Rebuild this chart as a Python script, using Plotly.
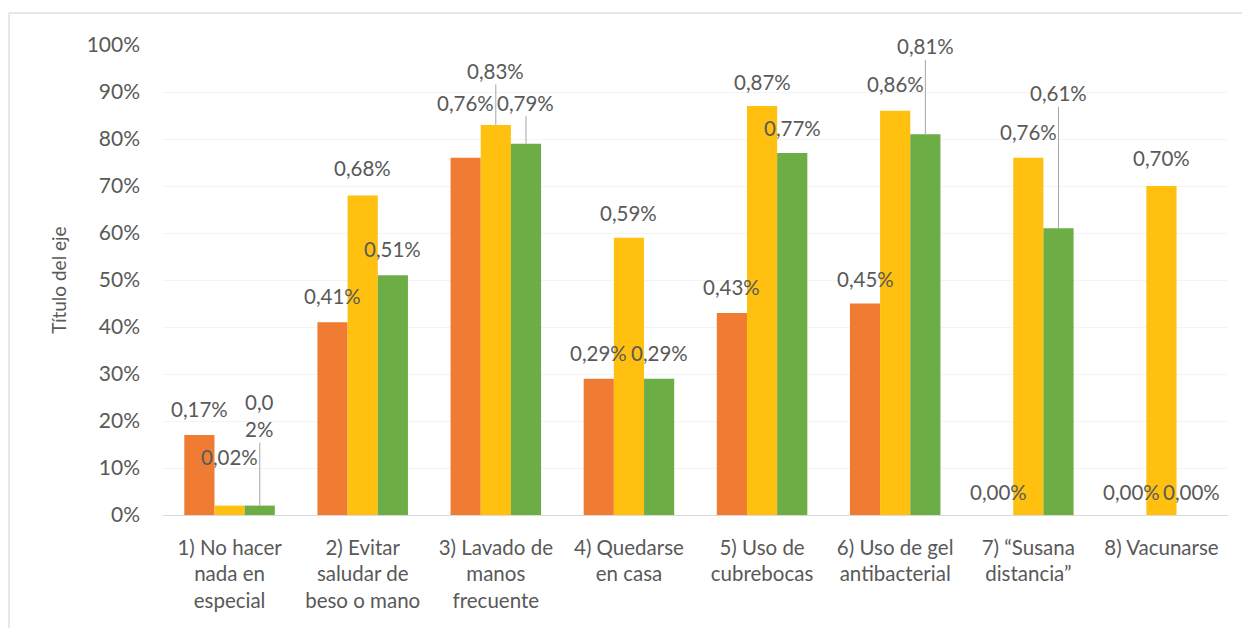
import plotly.graph_objects as go

categories = [
    "1) No hacer<br>nada en<br>especial",
    "2) Evitar<br>saludar de<br>beso o mano",
    "3) Lavado de<br>manos<br>frecuente",
    "4) Quedarse<br>en casa",
    "5) Uso de<br>cubrebocas",
    "6) Uso de gel<br>antibacterial",
    "7) “Susana<br>distancia”",
    "8) Vacunarse",
]
serie1 = [0.17, 0.41, 0.76, 0.29, 0.43, 0.45, 0.00, 0.00]
serie2 = [0.02, 0.68, 0.83, 0.59, 0.87, 0.86, 0.76, 0.70]
serie3 = [0.02, 0.51, 0.79, 0.29, 0.77, 0.81, 0.61, 0.00]
series_names = ["Serie 1", "Serie 2", "Serie 3"]
y_ticks = [0, 0.1, 0.2, 0.3, 0.4, 0.5, 0.6, 0.7, 0.8, 0.9, 1.0]

colors = ["#EF7C32", "#FFC010", "#6CAD45"]
series = [serie1, serie2, serie3]

# label placement (pixels above bar top, leader line flag)
label_up = [
    [26, 26, 55, 26, 26, 25, 23, 23],
    [49, 27, 54, 25, 24, 27, 26, 28],
    [90, 26, 41, 26, 25, 88, 135, 23],
]
leader = [
    [0, 0, 0, 0, 0, 0, 0, 0],
    [0, 0, 1, 0, 0, 0, 0, 0],
    [1, 0, 1, 0, 0, 1, 1, 0],
]
wrap = {(2, 0)}

# page has an 8px body margin; figure sized to fit the 1250x628 window
W, H = 1242, 620
ML, MR, MT, MB = 155, 22, 37, 113
plot_w = W - ML - MR
plot_h = H - MT - MB
bargap = 0.32
cat_w = plot_w / len(categories)
bar_w = cat_w * (1 - bargap) / 3

fig = go.Figure()
for s, (vals, name, col) in enumerate(zip(series, series_names, colors)):
    fig.add_trace(go.Bar(x=categories, y=vals, name=name, marker_color=col,
                         marker_line_width=0, showlegend=False))

font_fam = "Lato, Open Sans, sans-serif"
lab_color = "#595959"
annotations = []
for s, vals in enumerate(series):
    for i, v in enumerate(vals):
        txt = f"{v:.2f}".replace(".", ",") + "%"
        if (s, i) in wrap:
            txt = txt[:3] + "<br>" + txt[3:]
        xs = (s - 1) * bar_w
        if leader[s][i]:
            annotations.append(dict(
                x=categories[i], y=v, xref="x", yref="y", text=txt,
                showarrow=True, arrowhead=0, arrowwidth=1, arrowcolor="#A6A6A6",
                ax=0, ay=-label_up[s][i], xshift=xs, standoff=0,
                font=dict(size=20.5, color=lab_color, family=font_fam)))
        else:
            annotations.append(dict(
                x=categories[i], y=v, xref="x", yref="y", text=txt,
                showarrow=False, xshift=xs, yshift=label_up[s][i],
                font=dict(size=20.5, color=lab_color, family=font_fam)))

# chart-area border: top edge 5px below figure top, left edge 1px from figure left
border_top = (plot_h + MT - 5) / plot_h
border_left = (1 - ML) / plot_w
fig.update_layout(
    width=W, height=H,
    margin=dict(l=ML, r=MR, t=MT, b=MB),
    paper_bgcolor="white", plot_bgcolor="white",
    barmode="group", bargap=bargap, bargroupgap=0,
    font=dict(family=font_fam, color=lab_color),
    annotations=annotations,
    shapes=[
        dict(type="line", xref="paper", yref="paper",
             x0=border_left, x1=(W - ML) / plot_w,
             y0=border_top, y1=border_top,
             line=dict(color="#D0D0D0", width=1)),
        dict(type="line", xref="paper", yref="paper",
             x0=border_left, x1=border_left,
             y0=border_top, y1=-MB / plot_h,
             line=dict(color="#D0D0D0", width=1)),
    ],
)
fig.update_xaxes(showline=True, linecolor="#D9D9D9", linewidth=1,
                 tickfont=dict(size=20.5, color=lab_color, family=font_fam),
                 ticks="", showgrid=False, ticklabelstandoff=14)
fig.update_yaxes(range=[0, 1.0], tickvals=y_ticks, tickformat=".0%",
                 showgrid=True, gridcolor="#F4F4F4", zeroline=False,
                 tickfont=dict(size=21, color=lab_color, family=font_fam),
                 ticklabelstandoff=22,
                 title=dict(text="Título del eje", standoff=14,
                            font=dict(size=19, color=lab_color, family=font_fam)))

fig.write_html("out.html")
